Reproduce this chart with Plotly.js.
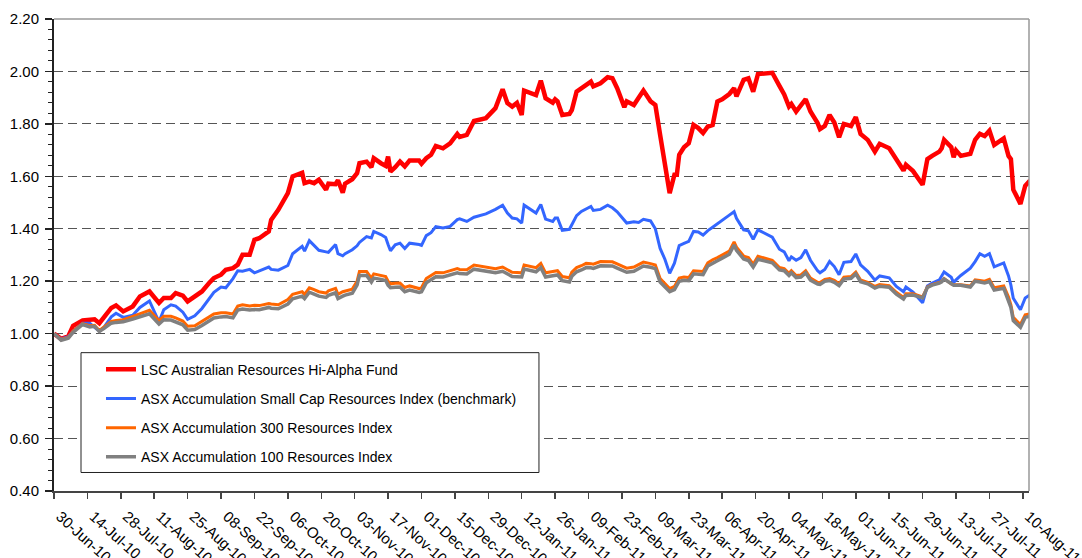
<!DOCTYPE html>
<html>
<head>
<meta charset="utf-8">
<script src="https://cdn.plot.ly/plotly-3.0.1.min.js"></script>
<style>
html,body{margin:0;padding:0;background:#fff;}
#chart{width:1082px;height:558px;}
</style>
</head>
<body>
<div id="chart"></div>
<script>
// ---- DATA ----
const seriesNames = [
  "LSC Australian Resources Hi-Alpha Fund",
  "ASX Accumulation Small Cap Resources Index (benchmark)",
  "ASX Accumulation 300 Resources Index",
  "ASX Accumulation 100 Resources Index"
];

const dates = [
  "2010-06-30","2010-07-03","2010-07-06","2010-07-08","2010-07-12","2010-07-15","2010-07-17","2010-07-19","2010-07-21","2010-07-24",
  "2010-07-26","2010-07-29","2010-08-02","2010-08-05","2010-08-09","2010-08-13","2010-08-15","2010-08-18","2010-08-20","2010-08-23",
  "2010-08-25","2010-08-28","2010-08-31","2010-09-03","2010-09-05","2010-09-08","2010-09-10","2010-09-13","2010-09-15","2010-09-17",
  "2010-09-20","2010-09-22","2010-09-24","2010-09-28","2010-09-29","2010-10-02","2010-10-06","2010-10-08","2010-10-12","2010-10-13",
  "2010-10-15","2010-10-17","2010-10-19","2010-10-22","2010-10-23","2010-10-26","2010-10-27","2010-10-29","2010-10-30","2010-11-02",
  "2010-11-04","2010-11-05","2010-11-08","2010-11-10","2010-11-11","2010-11-14","2010-11-16","2010-11-17","2010-11-18","2010-11-20",
  "2010-11-22","2010-11-24","2010-11-26","2010-11-30","2010-12-01","2010-12-03","2010-12-05","2010-12-07","2010-12-10","2010-12-13",
  "2010-12-16","2010-12-17","2010-12-20","2010-12-23","2010-12-28","2011-01-01","2011-01-04","2011-01-06","2011-01-08","2011-01-10",
  "2011-01-12","2011-01-13","2011-01-18","2011-01-20","2011-01-22","2011-01-25","2011-01-26","2011-01-27","2011-01-29","2011-02-01",
  "2011-02-02","2011-02-04","2011-02-06","2011-02-08","2011-02-10","2011-02-11","2011-02-14","2011-02-17","2011-02-19","2011-02-21",
  "2011-02-24","2011-02-25","2011-02-28","2011-03-02","2011-03-04","2011-03-07","2011-03-09","2011-03-11","2011-03-13","2011-03-15",
  "2011-03-17","2011-03-18","2011-03-19","2011-03-21","2011-03-23","2011-03-25","2011-03-27","2011-03-29","2011-03-31","2011-04-02",
  "2011-04-04","2011-04-06","2011-04-09","2011-04-11","2011-04-12","2011-04-15","2011-04-17","2011-04-19","2011-04-21","2011-04-27",
  "2011-04-30","2011-05-02","2011-05-04","2011-05-05","2011-05-07","2011-05-09","2011-05-11","2011-05-13","2011-05-16","2011-05-17",
  "2011-05-19","2011-05-21","2011-05-23","2011-05-25","2011-05-27","2011-05-30","2011-06-01","2011-06-03","2011-06-06","2011-06-09",
  "2011-06-11","2011-06-15","2011-06-18","2011-06-21","2011-06-22","2011-06-25","2011-06-29","2011-07-01","2011-07-03","2011-07-06",
  "2011-07-07","2011-07-08","2011-07-11","2011-07-12","2011-07-13","2011-07-15","2011-07-19","2011-07-21","2011-07-23","2011-07-25",
  "2011-07-27","2011-07-29","2011-08-02","2011-08-04","2011-08-05","2011-08-06","2011-08-09","2011-08-11","2011-08-13"
];

const lscFund = [
  1.00,0.98,0.99,1.03,1.05,1.055,1.055,1.04,1.066,1.098,
  1.108,1.085,1.104,1.142,1.161,1.117,1.136,1.136,1.155,1.145,
  1.123,1.142,1.161,1.193,1.212,1.225,1.244,1.25,1.263,1.301,
  1.301,1.358,1.364,1.39,1.434,1.472,1.536,1.60,1.614,1.574,
  1.58,1.574,1.587,1.549,1.572,1.57,1.585,1.538,1.572,1.589,
  1.612,1.65,1.656,1.635,1.669,1.65,1.64,1.675,1.618,1.635,
  1.656,1.638,1.66,1.66,1.648,1.669,1.682,1.716,1.707,1.726,
  1.762,1.75,1.758,1.811,1.822,1.86,1.932,1.879,1.866,1.88,
  1.834,1.927,1.91,1.965,1.898,1.881,1.894,1.886,1.834,1.838,
  1.853,1.923,1.936,1.945,1.961,1.943,1.955,1.978,1.974,1.936,
  1.864,1.886,1.872,1.9,1.927,1.886,1.872,1.758,1.65,1.536,
  1.606,1.606,1.682,1.711,1.726,1.796,1.784,1.765,1.79,1.796,
  1.885,1.894,1.914,1.936,1.905,1.968,1.974,1.923,1.99,1.995,
  1.945,1.912,1.866,1.876,1.847,1.872,1.894,1.847,1.803,1.78,
  1.792,1.834,1.805,1.749,1.80,1.792,1.826,1.762,1.739,1.694,
  1.724,1.707,1.666,1.622,1.644,1.62,1.568,1.666,1.678,1.694,
  1.707,1.739,1.711,1.673,1.699,1.678,1.686,1.739,1.762,1.754,
  1.774,1.72,1.745,1.678,1.666,1.549,1.495,1.564,1.584
];

const smallCapIndex = [
  1.00,0.98,0.988,1.01,1.04,1.04,1.024,1.01,1.025,1.064,
  1.078,1.062,1.07,1.10,1.125,1.045,1.091,1.11,1.105,1.082,
  1.055,1.068,1.096,1.135,1.158,1.178,1.175,1.21,1.24,1.238,
  1.245,1.232,1.24,1.254,1.245,1.242,1.26,1.305,1.333,1.315,
  1.355,1.337,1.318,1.312,1.31,1.34,1.305,1.297,1.305,1.32,
  1.335,1.348,1.37,1.365,1.39,1.378,1.367,1.34,1.316,1.339,
  1.345,1.325,1.345,1.34,1.337,1.374,1.385,1.408,1.403,1.409,
  1.435,1.438,1.428,1.444,1.457,1.474,1.49,1.46,1.441,1.438,
  1.422,1.49,1.46,1.493,1.437,1.428,1.441,1.441,1.394,1.398,
  1.416,1.45,1.466,1.477,1.485,1.47,1.474,1.49,1.48,1.465,
  1.43,1.422,1.427,1.424,1.436,1.43,1.40,1.325,1.284,1.23,
  1.269,1.30,1.336,1.344,1.352,1.39,1.388,1.376,1.393,1.406,
  1.42,1.434,1.452,1.465,1.44,1.396,1.392,1.36,1.396,1.368,
  1.322,1.312,1.278,1.293,1.28,1.29,1.32,1.28,1.24,1.232,
  1.245,1.275,1.256,1.225,1.272,1.275,1.304,1.262,1.238,1.204,
  1.22,1.213,1.18,1.16,1.178,1.158,1.118,1.182,1.193,1.205,
  1.222,1.235,1.215,1.195,1.205,1.222,1.25,1.275,1.305,1.295,
  1.305,1.255,1.27,1.22,1.185,1.135,1.091,1.136,1.148
];

const asx300Index = [
  1.00,0.978,0.986,1.01,1.038,1.03,1.032,1.012,1.026,1.047,
  1.05,1.053,1.066,1.075,1.089,1.05,1.066,1.066,1.06,1.048,
  1.028,1.03,1.046,1.062,1.075,1.08,1.08,1.075,1.105,1.11,
  1.106,1.108,1.107,1.115,1.113,1.11,1.13,1.15,1.16,1.15,
  1.175,1.168,1.16,1.155,1.163,1.173,1.15,1.16,1.163,1.17,
  1.2,1.237,1.237,1.212,1.228,1.222,1.218,1.2,1.19,1.192,
  1.193,1.176,1.182,1.172,1.175,1.21,1.22,1.233,1.232,1.241,
  1.248,1.245,1.244,1.262,1.254,1.248,1.254,1.245,1.234,1.233,
  1.232,1.262,1.252,1.268,1.232,1.237,1.239,1.24,1.218,1.213,
  1.235,1.252,1.259,1.268,1.267,1.265,1.275,1.274,1.274,1.266,
  1.255,1.25,1.254,1.262,1.273,1.267,1.262,1.21,1.192,1.172,
  1.18,1.195,1.212,1.216,1.214,1.24,1.238,1.237,1.27,1.282,
  1.29,1.3,1.315,1.35,1.33,1.296,1.29,1.265,1.295,1.28,
  1.252,1.248,1.23,1.24,1.222,1.224,1.24,1.212,1.196,1.195,
  1.207,1.21,1.203,1.19,1.215,1.218,1.235,1.205,1.196,1.18,
  1.187,1.183,1.158,1.138,1.152,1.152,1.14,1.178,1.187,1.195,
  1.2,1.21,1.19,1.187,1.187,1.187,1.182,1.205,1.203,1.2,
  1.207,1.175,1.182,1.14,1.11,1.062,1.035,1.072,1.076
];

const asx100Index = [
  1.00,0.975,0.983,1.005,1.035,1.026,1.028,1.008,1.02,1.04,
  1.043,1.045,1.056,1.064,1.076,1.037,1.053,1.052,1.046,1.034,
  1.013,1.016,1.031,1.047,1.06,1.064,1.065,1.06,1.09,1.094,
  1.09,1.092,1.091,1.1,1.097,1.095,1.113,1.133,1.143,1.134,
  1.158,1.151,1.143,1.138,1.146,1.156,1.134,1.143,1.147,1.154,
  1.185,1.222,1.222,1.197,1.212,1.207,1.203,1.185,1.175,1.177,
  1.178,1.16,1.166,1.157,1.16,1.194,1.204,1.217,1.216,1.225,
  1.232,1.229,1.228,1.246,1.238,1.232,1.238,1.229,1.218,1.217,
  1.216,1.246,1.236,1.252,1.216,1.221,1.223,1.224,1.202,1.197,
  1.219,1.236,1.243,1.252,1.251,1.249,1.259,1.258,1.258,1.25,
  1.239,1.234,1.238,1.247,1.258,1.253,1.248,1.197,1.179,1.16,
  1.168,1.183,1.2,1.204,1.202,1.228,1.226,1.225,1.258,1.27,
  1.278,1.288,1.303,1.338,1.318,1.285,1.279,1.254,1.284,1.27,
  1.243,1.24,1.222,1.232,1.214,1.216,1.232,1.204,1.189,1.188,
  1.2,1.203,1.196,1.183,1.208,1.211,1.228,1.198,1.19,1.174,
  1.181,1.177,1.151,1.132,1.146,1.147,1.136,1.176,1.185,1.193,
  1.198,1.208,1.188,1.185,1.185,1.185,1.178,1.2,1.197,1.193,
  1.199,1.166,1.173,1.13,1.1,1.05,1.024,1.062,1.066
];

// ---- STYLES ----
const seriesColors = ["#FF0000", "#3366FF", "#FF6600", "#808080"];
const seriesWidths = [4.5, 3, 3, 3.5];
const seriesValues = [lscFund, smallCapIndex, asx300Index, asx100Index];

const FONT = "Liberation Sans, Arial, sans-serif";

const traces = seriesValues.map((vals, i) => ({
  type: "scatter",
  mode: "lines",
  x: dates,
  y: vals,
  name: seriesNames[i],
  legendgroup: "g" + i,
  line: { color: seriesColors[i], width: seriesWidths[i] },
  hoverinfo: "skip"
}));

const layout = {
  width: 1082,
  height: 558,
  margin: { l: 54, r: 53, t: 19, b: 67, pad: 0 },
  paper_bgcolor: "#ffffff",
  plot_bgcolor: "#ffffff",
  font: { family: FONT, color: "#000" },
  showlegend: true,
  legend: {
    x: 0.0482, y: 0.291, xanchor: "left", yanchor: "top",
    bgcolor: "rgba(0,0,0,0)", borderwidth: 0,
    font: { family: FONT, size: 14, color: "#000" },
    tracegroupgap: 8,
    itemwidth: 30
  },
  xaxis: {
    type: "date",
    range: ["2010-06-30", "2011-08-12 14:00"],
    tick0: "2010-06-30",
    dtick: 14 * 86400000,
    tickformat: "%d-%b-%y",
    tickangle: 42,
    ticks: "outside",
    ticklen: 6,
    tickwidth: 1.5,
    tickcolor: "#444",
    showline: true,
    linecolor: "#444",
    linewidth: 2,
    showgrid: false,
    zeroline: false,
    ticklabelstandoff: 3,
    ticklabelshift: 6,
    ticklabeloverflow: "allow",
    tickfont: { family: FONT, size: 15, color: "#000" },
    fixedrange: true
  },
  yaxis: {
    range: [0.4, 2.2],
    dtick: 0.2,
    tick0: 0.4,
    tickformat: ".2f",
    ticks: "outside",
    ticklen: 7,
    tickwidth: 1.5,
    tickcolor: "#222",
    showline: true,
    linecolor: "#222",
    linewidth: 2,
    showgrid: true,
    gridcolor: "#555",
    gridwidth: 1,
    griddash: "9px,5px",
    zeroline: false,
    ticklabelstandoff: 3,
    tickfont: { family: FONT, size: 15, color: "#000" },
    minor: { dtick: 0.04, ticks: "outside", ticklen: 4, tickcolor: "#222", tickwidth: 1, showgrid: false },
    fixedrange: true
  },
  shapes: [
    { type: "line", xref: "paper", yref: "paper", x0: 0, x1: 1, y0: 1, y1: 1,
      line: { color: "#999", width: 1.5 }, layer: "above" },
    { type: "line", xref: "paper", yref: "paper", x0: 1, x1: 1, y0: 0, y1: 1,
      line: { color: "#999", width: 1.5 }, layer: "above" },
    { type: "rect", xref: "paper", yref: "paper", x0: 0.0277, x1: 0.4974, y0: 0.0392, y1: 0.2931,
      fillcolor: "#ffffff", line: { color: "#222", width: 1 }, layer: "above" }
  ]
};

Plotly.newPlot("chart", traces, layout, { staticPlot: true, displayModeBar: false });
</script>
</body>
</html>
